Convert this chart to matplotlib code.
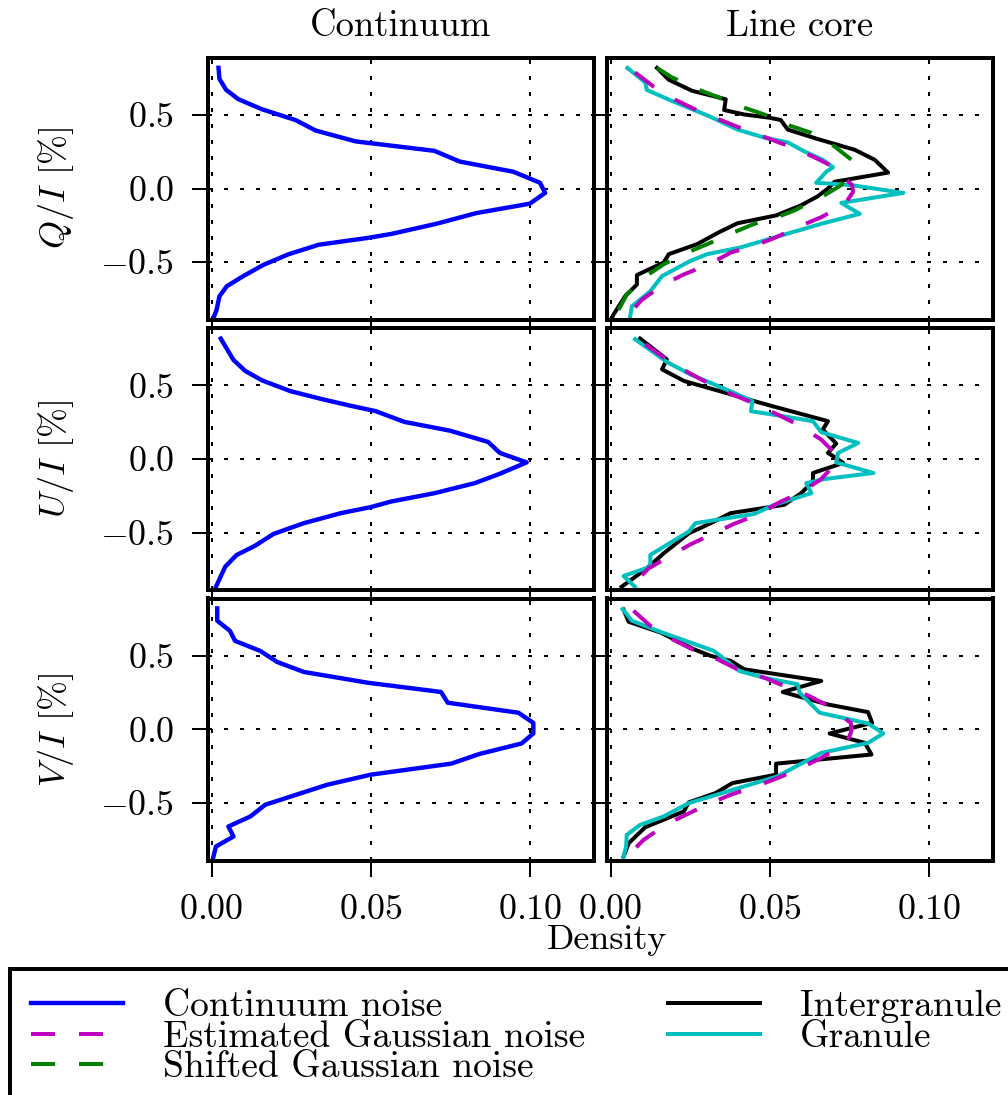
import matplotlib
matplotlib.use("Agg")
import matplotlib.pyplot as plt

plt.rcParams.update({
    "font.family": "serif",
    "font.serif": ["cmr10"],
    "mathtext.fontset": "cm",
    "axes.formatter.use_mathtext": True,
    "axes.unicode_minus": True,
    "lines.scale_dashes": False,
})

# ---------------- data: (density, polarisation value) per curve ----------------
# Q/I, continuum
q_cont_d = [0.0022, 0.0025, 0.0046, 0.0085, 0.0159, 0.0264, 0.0327, 0.0453, 0.0700,
            0.0780, 0.0948, 0.1032, 0.1048, 0.1000, 0.0832, 0.0706, 0.0564, 0.0490,
            0.0337, 0.0243, 0.0163, 0.0100, 0.0048, 0.0025, 0.0016, 0.0006]
q_cont_y = [0.820, 0.744, 0.670, 0.606, 0.538, 0.465, 0.394, 0.320, 0.256,
            0.183, 0.114, 0.039, -0.030, -0.103, -0.167, -0.240, -0.309, -0.336,
            -0.382, -0.446, -0.519, -0.595, -0.664, -0.732, -0.824, -0.881]

# Q/I, line core
q_inter_d = [0.0146, 0.0183, 0.0256, 0.0341, 0.0362, 0.0357, 0.0420, 0.0499, 0.0535,
             0.0557, 0.0651, 0.0767, 0.0830, 0.0872, 0.0704, 0.0683, 0.0651, 0.0599,
             0.0520, 0.0399, 0.0341, 0.0272, 0.0183, 0.0167, 0.0083, 0.0083, 0.0046,
             0.0009, 0.0004]
q_inter_y = [0.819, 0.739, 0.664, 0.618, 0.606, 0.533, 0.503, 0.481, 0.465,
             0.400, 0.336, 0.263, 0.195, 0.108, 0.046, 0.000, -0.053, -0.114,
             -0.183, -0.236, -0.297, -0.378, -0.446, -0.503, -0.588, -0.652, -0.732,
             -0.858, -0.881]
q_gran_d = [0.0053, 0.0109, 0.0114, 0.0193, 0.0309, 0.0399, 0.0488, 0.0557, 0.0609,
            0.0667, 0.0699, 0.0678, 0.0646, 0.0757, 0.0920, 0.0725, 0.0783, 0.0662,
            0.0546, 0.0409, 0.0304, 0.0251, 0.0162, 0.0125, 0.0067, 0.0061]
q_gran_y = [0.819, 0.721, 0.670, 0.595, 0.492, 0.400, 0.343, 0.313, 0.252,
            0.195, 0.144, 0.114, 0.039, 0.023, -0.030, -0.098, -0.172, -0.240,
            -0.313, -0.400, -0.446, -0.492, -0.595, -0.698, -0.801, -0.881]
q_est_d = [0.0077, 0.0135, 0.0204, 0.0272, 0.0346, 0.0415, 0.0493, 0.0562, 0.0636,
           0.0699, 0.0759, 0.0762, 0.0736, 0.0662, 0.0599, 0.0515, 0.0452, 0.0378,
           0.0309, 0.0230, 0.0167, 0.0099, 0.0051]
q_est_y = [0.789, 0.693, 0.602, 0.531, 0.465, 0.405, 0.343, 0.286, 0.217,
           0.149, 0.023, -0.023, -0.108, -0.195, -0.252, -0.336, -0.389, -0.435,
           -0.515, -0.584, -0.652, -0.755, -0.870]
q_shift_d = [0.0146, 0.0193, 0.0272, 0.0341, 0.0420, 0.0483, 0.0562, 0.0631, 0.0704,
             0.0757, 0.0747, 0.0725, 0.0672, 0.0578, 0.0531, 0.0452, 0.0388, 0.0304,
             0.0241, 0.0167, 0.0104, 0.0051, 0.0014]
q_shift_y = [0.819, 0.755, 0.675, 0.618, 0.549, 0.503, 0.428, 0.378, 0.286,
             0.195, 0.114, 0.023, -0.046, -0.149, -0.188, -0.240, -0.297, -0.378,
             -0.435, -0.515, -0.606, -0.721, -0.870]

# U/I, continuum
u_cont_d = [0.0029, 0.0069, 0.0106, 0.0159, 0.0248, 0.0343, 0.0432, 0.0516, 0.0606,
            0.0748, 0.0869, 0.0906, 0.0990, 0.0906, 0.0827, 0.0701, 0.0564, 0.0500,
            0.0406, 0.0290, 0.0195, 0.0137, 0.0079, 0.0043, 0.0014]
u_cont_y = [0.818, 0.673, 0.598, 0.534, 0.461, 0.409, 0.364, 0.325, 0.252,
            0.193, 0.116, 0.041, -0.023, -0.100, -0.164, -0.232, -0.289, -0.327,
            -0.368, -0.436, -0.509, -0.589, -0.652, -0.732, -0.868]

# U/I, line core
u_inter_d = [0.0093, 0.0177, 0.0162, 0.0231, 0.0379, 0.0452, 0.0515, 0.0683, 0.0667,
             0.0709, 0.0683, 0.0709, 0.0731, 0.0636, 0.0636, 0.0599, 0.0546, 0.0377,
             0.0315, 0.0246, 0.0167, 0.0114, 0.0035]
u_inter_y = [0.818, 0.677, 0.609, 0.530, 0.439, 0.393, 0.355, 0.257, 0.200,
             0.105, 0.041, 0.007, -0.027, -0.095, -0.152, -0.232, -0.311, -0.368,
             -0.436, -0.505, -0.641, -0.743, -0.868]
u_gran_d = [0.0077, 0.0177, 0.0251, 0.0388, 0.0446, 0.0441, 0.0541, 0.0636, 0.0662,
            0.0778, 0.0715, 0.0709, 0.0826, 0.0673, 0.0615, 0.0631, 0.0515, 0.0452,
            0.0267, 0.0246, 0.0125, 0.0125, 0.0041, 0.0077]
u_gran_y = [0.814, 0.659, 0.575, 0.450, 0.393, 0.325, 0.291, 0.257, 0.182,
            0.109, 0.041, -0.023, -0.095, -0.136, -0.164, -0.232, -0.311, -0.373,
            -0.436, -0.493, -0.652, -0.732, -0.795, -0.868]
u_est_d = [0.0109, 0.0172, 0.0246, 0.0304, 0.0383, 0.0446, 0.0525, 0.0588, 0.0662,
           0.0704, 0.0708, 0.0662, 0.0604, 0.0530, 0.0467, 0.0388, 0.0325, 0.0251,
           0.0183, 0.0120, 0.0062]
u_est_y = [0.780, 0.682, 0.586, 0.518, 0.439, 0.382, 0.302, 0.234, 0.132,
           0.041, -0.030, -0.136, -0.220, -0.295, -0.373, -0.441, -0.505, -0.580,
           -0.664, -0.743, -0.868]

# V/I, continuum
v_cont_d = [0.0018, 0.0018, 0.0058, 0.0074, 0.0153, 0.0206, 0.0290, 0.0490, 0.0721,
            0.0742, 0.0964, 0.1011, 0.1011, 0.0974, 0.0842, 0.0753, 0.0500, 0.0364,
            0.0169, 0.0122, 0.0053, 0.0069, 0.0014, 0.0006]
v_cont_y = [0.823, 0.739, 0.670, 0.602, 0.534, 0.459, 0.391, 0.318, 0.255,
            0.182, 0.114, 0.045, -0.027, -0.095, -0.166, -0.232, -0.307, -0.375,
            -0.511, -0.591, -0.659, -0.727, -0.795, -0.864]

# V/I, line core
v_inter_d = [0.0041, 0.0057, 0.0157, 0.0262, 0.0315, 0.0378, 0.0420, 0.0662, 0.0541,
             0.0683, 0.0809, 0.0822, 0.0688, 0.0799, 0.0820, 0.0520, 0.0520, 0.0383,
             0.0330, 0.0246, 0.0230, 0.0109, 0.0057, 0.0041]
v_inter_y = [0.814, 0.732, 0.659, 0.545, 0.500, 0.466, 0.409, 0.330, 0.255,
             0.170, 0.118, 0.045, -0.027, -0.091, -0.170, -0.232, -0.307, -0.364,
             -0.432, -0.495, -0.557, -0.664, -0.773, -0.864]
v_gran_d = [0.0038, 0.0067, 0.0162, 0.0325, 0.0404, 0.0483, 0.0588, 0.0594, 0.0657,
            0.0809, 0.0857, 0.0809, 0.0662, 0.0525, 0.0246, 0.0167, 0.0093, 0.0051,
            0.0049, 0.0041]
v_gran_y = [0.818, 0.739, 0.659, 0.534, 0.398, 0.352, 0.307, 0.250, 0.114,
            0.041, -0.027, -0.091, -0.159, -0.318, -0.500, -0.591, -0.648, -0.716,
            -0.795, -0.864]
v_est_d = [0.0072, 0.0125, 0.0193, 0.0257, 0.0336, 0.0399, 0.0483, 0.0546, 0.0625,
           0.0688, 0.0755, 0.0757, 0.0741, 0.0662, 0.0599, 0.0525, 0.0457, 0.0378,
           0.0315, 0.0236, 0.0172, 0.0104, 0.0051]
v_est_y = [0.807, 0.705, 0.614, 0.545, 0.477, 0.409, 0.352, 0.295, 0.227,
           0.155, 0.045, -0.011, -0.095, -0.193, -0.261, -0.330, -0.386, -0.443,
           -0.500, -0.580, -0.648, -0.750, -0.864]

row_labels = [r"$Q/I$ [%]", r"$U/I$ [%]", r"$V/I$ [%]"]
col_titles = ["Continuum", "Line core"]
x_ticks = [0.00, 0.05, 0.10]
y_ticks = [-0.5, 0.0, 0.5]

continuum = [(q_cont_d, q_cont_y), (u_cont_d, u_cont_y), (v_cont_d, v_cont_y)]
intergranule = [(q_inter_d, q_inter_y), (u_inter_d, u_inter_y), (v_inter_d, v_inter_y)]
granule = [(q_gran_d, q_gran_y), (u_gran_d, u_gran_y), (v_gran_d, v_gran_y)]
estimated = [(q_est_d, q_est_y), (u_est_d, u_est_y), (v_est_d, v_est_y)]
shifted = [(q_shift_d, q_shift_y), None, None]

# ---------------- figure ----------------
W, H = 1008, 1095
DPI = 288
fig = plt.figure(figsize=(W / DPI, H / DPI), dpi=DPI)

col_x0 = [208 / W, 607 / W]
ax_w = 385.5 / W
row_c = [188.5, 459.0, 729.5]
ax_h = 262 / H

DASH = (0, (6, 6))
DOT = (0, (1, 3))
LW = 1.0

handles = {}
for r in range(3):
    for c in range(2):
        yc = 1 - row_c[r] / H
        ax = fig.add_axes([col_x0[c], yc - ax_h / 2, ax_w, ax_h])
        ax.set_xlim(-0.0011, 0.12)
        ax.set_ylim(-0.89, 0.89)
        ax.set_xticks(x_ticks)
        ax.set_yticks(y_ticks)
        ax.grid(True, color="k", linestyle=DOT, linewidth=0.5)
        for s in ax.spines.values():
            s.set_linewidth(1.0)
        ax.tick_params(direction="out", length=4, width=0.5, labelsize=9,
                       top=False, right=False, pad=4.5)
        if c == 0:
            d, y = continuum[r]
            handles["cont"], = ax.plot(d, y, color="#0000ff", lw=1.1)
            ax.set_ylabel(row_labels[r], fontsize=9)
            ax.yaxis.set_label_coords(-0.343, 0.5)
        else:
            d, y = intergranule[r]
            handles["inter"], = ax.plot(d, y, color="k", lw=LW)
            d, y = granule[r]
            handles["gran"], = ax.plot(d, y, color="c", lw=LW)
            d, y = estimated[r]
            handles["est"], = ax.plot(d, y, color="m", lw=LW, linestyle=DASH)
            if shifted[r] is not None:
                d, y = shifted[r]
                handles["shift"], = ax.plot(d, y, color="g", lw=LW, linestyle=DASH)
            ax.tick_params(labelleft=False)
        if r < 2:
            ax.tick_params(labelbottom=False)
        if r == 0:
            ax.set_title(col_titles[c], fontsize=9.2, pad=5.3)

fig.text(607 / W, 1 - 940 / H, "Density", ha="center", va="center", fontsize=9)

leg = fig.legend(
    [handles["cont"], handles["est"], handles["shift"], handles["inter"], handles["gran"]],
    ["Continuum noise", "Estimated Gaussian noise", "Shifted Gaussian noise",
     "Intergranule", "Granule"],
    ncol=2, loc="upper left", bbox_to_anchor=(10 / W, 1 - 969 / H),
    borderaxespad=0, fontsize=9.4, handlelength=2.45, handletextpad=1.06,
    columnspacing=2.2, labelspacing=-0.07, borderpad=0.55,
    fancybox=False, framealpha=1, edgecolor="k",
)
leg.get_frame().set_linewidth(1.0)

fig.savefig("out.png", dpi=DPI)
